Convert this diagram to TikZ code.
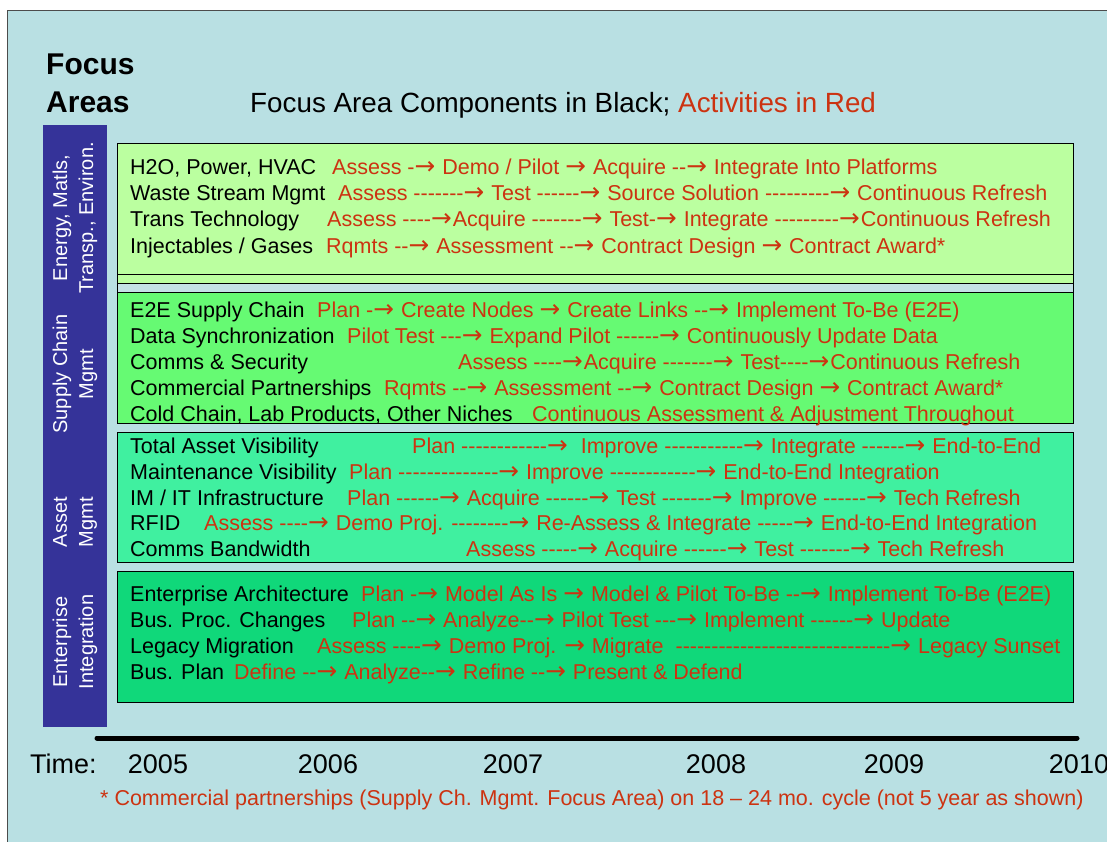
\documentclass[tikz,border=0pt]{standalone}
\usepackage{fontspec}
\setmainfont{Liberation Sans}[Ligatures=TeXOff]
\newfontfamily\arrowfont{DejaVu Sans}[Scale=1.15]
\catcode`→=\active
\def→{{\arrowfont\char"2192\relax}\kern1pt\relax}
\usetikzlibrary{positioning}
\definecolor{slide}{RGB}{185,224,227}
\definecolor{sidebar}{RGB}{53,51,153}
\definecolor{lime}{RGB}{187,255,160}
\definecolor{grass}{RGB}{102,250,115}
\definecolor{mint}{RGB}{64,240,160}
\definecolor{emerald}{RGB}{16,216,122}
\definecolor{gapblue}{RGB}{196,226,230}
\definecolor{actred}{RGB}{204,51,17}
\tikzset{
    %Define text styles
    comp/.style={
           anchor=base west,
           inner sep=0pt,
           font=\fontsize{21.5}{26}\selectfont},
    act/.style={comp, text=actred},
    side/.style={
           rotate=90,
           align=center,
           text=white,
           font=\fontsize{20}{26}\selectfont},
    year/.style={
           anchor=base,
           inner sep=0pt,
           font=\fontsize{27}{32}\selectfont},
    % Define style for the bands
    band/.style={draw=black, line width=1pt}
}
\begin{document}
\begin{tikzpicture}[x=1pt,y=-1pt]
\useasboundingbox (0,0) rectangle (1107,842);
\fill[white] (0,0) rectangle (1107,842);
\filldraw[fill=slide, draw=black!70, line width=1pt] (7,11) rectangle (1120,860);
% titles
\node[comp, font=\fontsize{30}{36}\selectfont\bfseries] (focus) at (46,75) {Focus};
\node[comp, font=\fontsize{30}{36}\selectfont\bfseries] (areas) at (46,113) {Areas};
\node[comp, font=\fontsize{27.8}{32}\selectfont] (head) at (250,113)
    {Focus Area Components in Black; \textcolor{actred}{Activities in Red}};
% sidebar
\fill[sidebar] (43,125) rectangle (107,727);
\node[side] (s1) at (75,218) {Energy, Matls,\\Transp., Environ.};
\node[side] (s2) at (75,374) {Supply Chain\\Mgmt};
\node[side] (s3) at (75,522) {Asset\\Mgmt};
\node[side] (s4) at (75,642) {Enterprise\\Integration};
% bands
\draw[band, fill=lime] (117,144) rectangle (1073,274);
\draw[band, fill=lime] (117,274) rectangle (1073,283);
\draw[band, fill=gapblue] (117,283) rectangle (1073,292);
\draw[band, fill=grass] (117,292) rectangle (1073,423);
\draw[band, fill=mint] (117,432) rectangle (1073,562);
\draw[band, fill=emerald] (117,571) rectangle (1073,702);
% energy, materials
\node[comp] (h2o) at (130,175) {H2O, Power, HVAC};
\node[act] (h2o-a) at (332,175) {Assess -→ Demo / Pilot → Acquire --→ Integrate Into Platforms};
\node[comp] (waste) at (130,201) {Waste Stream Mgmt};
\node[act] (waste-a) at (338,201) {Assess -------→ Test ------→ Source Solution ---------→ Continuous Refresh};
\node[comp] (trans) at (130,227) {Trans Technology};
\node[act] (trans-a) at (327,227) {Assess ----→Acquire -------→ Test-→ Integrate ---------→Continuous Refresh};
\node[comp] (inject) at (130,253) {Injectables / Gases};
\node[act] (inject-a) at (326,253) {Rqmts --→ Assessment --→ Contract Design → Contract Award*};
% supply chain
\node[comp] (e2e) at (130,317) {E2E Supply Chain};
\node[act] (e2e-a) at (317,317) {Plan -→ Create Nodes → Create Links --→ Implement To-Be (E2E)};
\node[comp] (sync) at (130,343) {Data Synchronization};
\node[act] (sync-a) at (347,343) {Pilot Test ---→ Expand Pilot ------→ Continuously Update Data};
\node[comp] (comms) at (130,369) {Comms \& Security};
\node[act] (comms-a) at (458,369) {Assess ----→Acquire -------→ Test----→Continuous Refresh};
\node[comp] (partner) at (130,395) {Commercial Partnerships};
\node[act] (partner-a) at (384,395) {Rqmts --→ Assessment --→ Contract Design → Contract Award*};
\node[comp] (cold) at (130,421) {Cold Chain, Lab Products, Other Niches};
\node[act] (cold-a) at (532,421) {Continuous Assessment \& Adjustment Throughout};
% asset mgmt
\node[comp] (tav) at (130,453) {Total Asset Visibility};
\node[act] (tav-a) at (412,453) {Plan ------------→\ \ Improve -----------→ Integrate ------→ End-to-End};
\node[comp] (maint) at (130,479) {Maintenance Visibility};
\node[act] (maint-a) at (349,479) {Plan --------------→ Improve ------------→ End-to-End Integration};
\node[comp] (imit) at (130,505) {IM / IT Infrastructure};
\node[act] (imit-a) at (347,505) {Plan ------→ Acquire ------→ Test -------→ Improve ------→ Tech Refresh};
\node[comp] (rfid) at (130,530) {RFID};
\node[act] (rfid-a) at (204,530) {Assess ----→ Demo Proj. --------→ Re-Assess \& Integrate -----→ End-to-End Integration};
\node[comp] (band) at (130,556) {Comms Bandwidth};
\node[act] (band-a) at (466,556) {Assess -----→ Acquire ------→ Test -------→ Tech Refresh};
% enterprise integration
\node[comp] (ea) at (130,601) {Enterprise Architecture};
\node[act] (ea-a) at (361,601) {Plan -→ Model As Is → Model \& Pilot To-Be --→ Implement To-Be (E2E)};
\node[comp] (bpc) at (130,627) {Bus. Proc. Changes};
\node[act] (bpc-a) at (352,627) {Plan --→ Analyze--→ Pilot Test ---→ Implement ------→ Update};
\node[comp] (legacy) at (130,653) {Legacy Migration};
\node[act] (legacy-a) at (317,653) {Assess ----→ Demo Proj. → Migrate\ \ ------------------------------→ Legacy Sunset};
\node[comp] (bplan) at (130,679) {Bus. Plan};
\node[act] (bplan-a) at (234,679) {Define --→ Analyze--→ Refine --→ Present \& Defend};
% time axis
\coordinate (t0) at (97,738);
\coordinate (t1) at (1077,738);
\draw[line width=5pt, line cap=round] (t0) -- (t1);
\node[comp, font=\fontsize{27}{32}\selectfont] (time) at (30,773) {Time:};
\foreach \yr/\x in {2005/158, 2006/328, 2007/513, 2008/716, 2009/894, 2010/1079}
    \node[year] (y\yr) at (\x,773) {\yr};
\node[act] (note) at (100,805) {* Commercial partnerships (Supply Ch. Mgmt. Focus Area) on 18 – 24 mo. cycle (not 5 year as shown)};
\end{tikzpicture}
\end{document}
